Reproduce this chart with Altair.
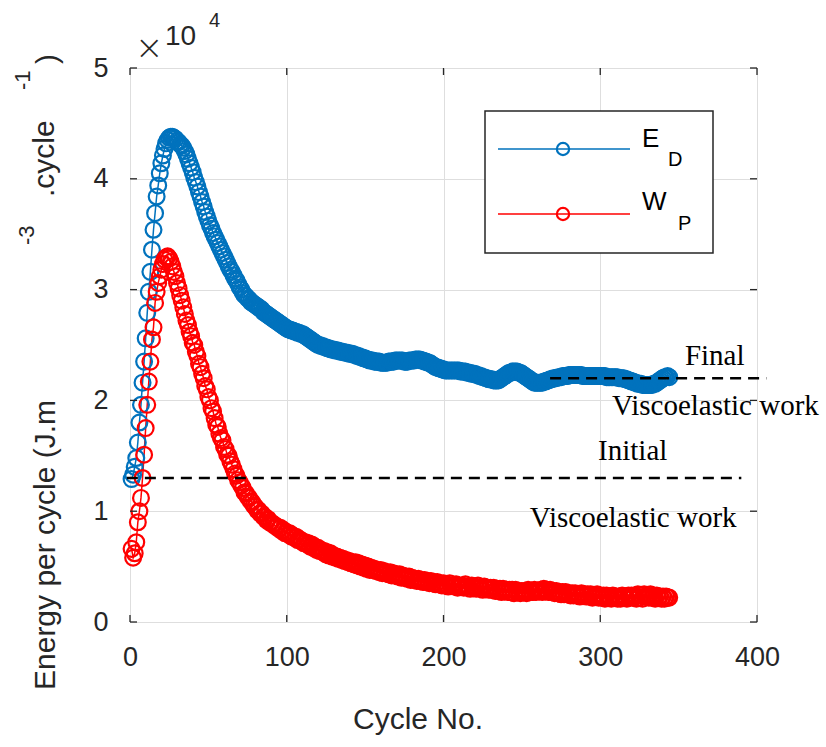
import altair as alt
import pandas as pd

# ---------------- data (values in units of 10^4 J.m^-3.cycle^-1) ----------------
cycles = list(range(1, 345))

energy_dissipated = [  # E_D
    1.29, 1.33, 1.40, 1.48, 1.62, 1.80, 1.96, 2.16, 2.35, 2.56,
    2.79, 2.98, 3.16, 3.36, 3.54, 3.69, 3.84, 3.94, 4.05, 4.14,
    4.21, 4.27, 4.32, 4.35, 4.37, 4.38, 4.38, 4.37, 4.36, 4.34,
    4.33, 4.31, 4.30, 4.28, 4.25, 4.22, 4.18, 4.14, 4.10, 4.06,
    4.01, 3.97, 3.93, 3.88, 3.84, 3.79, 3.75, 3.70, 3.66, 3.62,
    3.58, 3.55, 3.51, 3.48, 3.45, 3.42, 3.39, 3.36, 3.33, 3.30,
    3.27, 3.24, 3.21, 3.18, 3.16, 3.13, 3.10, 3.08, 3.05, 3.02,
    3.00, 2.97, 2.95, 2.94, 2.92, 2.91, 2.89, 2.88, 2.87, 2.86,
    2.85, 2.84, 2.83, 2.82, 2.80, 2.79, 2.78, 2.77, 2.76, 2.75,
    2.74, 2.73, 2.72, 2.71, 2.70, 2.69, 2.68, 2.67, 2.66, 2.65,
    2.64, 2.64, 2.63, 2.63, 2.62, 2.62, 2.61, 2.61, 2.60, 2.60,
    2.59, 2.58, 2.57, 2.56, 2.55, 2.54, 2.53, 2.52, 2.51, 2.50,
    2.50, 2.49, 2.49, 2.48, 2.48, 2.47, 2.47, 2.46, 2.46, 2.46,
    2.45, 2.45, 2.45, 2.44, 2.44, 2.44, 2.43, 2.43, 2.43, 2.42,
    2.42, 2.42, 2.41, 2.41, 2.40, 2.40, 2.39, 2.39, 2.38, 2.38,
    2.37, 2.37, 2.36, 2.36, 2.36, 2.35, 2.35, 2.35, 2.35, 2.34,
    2.34, 2.34, 2.34, 2.34, 2.35, 2.35, 2.35, 2.35, 2.36, 2.36,
    2.36, 2.36, 2.36, 2.36, 2.35, 2.35, 2.35, 2.36, 2.36, 2.36,
    2.36, 2.37, 2.37, 2.37, 2.37, 2.36, 2.36, 2.35, 2.35, 2.34,
    2.34, 2.33, 2.32, 2.31, 2.30, 2.30, 2.29, 2.29, 2.28, 2.28,
    2.27, 2.27, 2.27, 2.27, 2.27, 2.27, 2.27, 2.27, 2.27, 2.27,
    2.26, 2.26, 2.26, 2.26, 2.25, 2.25, 2.25, 2.24, 2.24, 2.24,
    2.23, 2.23, 2.22, 2.22, 2.21, 2.21, 2.20, 2.20, 2.19, 2.19,
    2.19, 2.18, 2.18, 2.18, 2.18, 2.19, 2.20, 2.21, 2.22, 2.23,
    2.24, 2.25, 2.25, 2.26, 2.26, 2.26, 2.26, 2.25, 2.25, 2.24,
    2.23, 2.22, 2.21, 2.20, 2.19, 2.18, 2.17, 2.16, 2.16, 2.16,
    2.16, 2.16, 2.16, 2.17, 2.17, 2.18, 2.18, 2.19, 2.19, 2.20,
    2.20, 2.20, 2.21, 2.21, 2.21, 2.22, 2.22, 2.22, 2.22, 2.23,
    2.23, 2.23, 2.23, 2.23, 2.23, 2.23, 2.23, 2.23, 2.22, 2.22,
    2.22, 2.22, 2.22, 2.22, 2.22, 2.22, 2.22, 2.22, 2.22, 2.22,
    2.22, 2.22, 2.22, 2.21, 2.21, 2.21, 2.21, 2.21, 2.21, 2.21,
    2.21, 2.20, 2.20, 2.20, 2.20, 2.19, 2.19, 2.18, 2.18, 2.17,
    2.17, 2.16, 2.16, 2.15, 2.15, 2.15, 2.14, 2.14, 2.14, 2.14,
    2.14, 2.14, 2.14, 2.15, 2.15, 2.16, 2.17, 2.18, 2.19, 2.20,
    2.21, 2.21, 2.22, 2.21,
]

plastic_work = [  # W_P
    0.66, 0.58, 0.62, 0.72, 0.90, 1.00, 1.12, 1.30, 1.51, 1.75,
    1.96, 2.17, 2.35, 2.55, 2.66, 2.88, 2.98, 3.06, 3.12, 3.18,
    3.23, 3.27, 3.29, 3.30, 3.28, 3.25, 3.21, 3.16, 3.12, 3.06,
    3.01, 2.95, 2.90, 2.84, 2.78, 2.72, 2.68, 2.62, 2.58, 2.52,
    2.50, 2.44, 2.40, 2.33, 2.30, 2.24, 2.20, 2.13, 2.10, 2.03,
    2.00, 1.93, 1.90, 1.84, 1.78, 1.76, 1.70, 1.66, 1.64, 1.58,
    1.56, 1.51, 1.50, 1.45, 1.42, 1.38, 1.34, 1.32, 1.28, 1.26,
    1.23, 1.21, 1.17, 1.16, 1.13, 1.12, 1.09, 1.08, 1.05, 1.04,
    1.01, 1.01, 0.98, 0.98, 0.95, 0.95, 0.92, 0.93, 0.90, 0.90,
    0.88, 0.88, 0.86, 0.86, 0.84, 0.85, 0.82, 0.83, 0.80, 0.81,
    0.79, 0.80, 0.77, 0.78, 0.76, 0.77, 0.74, 0.75, 0.73, 0.73,
    0.71, 0.72, 0.70, 0.71, 0.68, 0.70, 0.67, 0.68, 0.65, 0.67,
    0.64, 0.65, 0.63, 0.64, 0.61, 0.63, 0.60, 0.62, 0.59, 0.60,
    0.58, 0.59, 0.57, 0.58, 0.56, 0.57, 0.55, 0.56, 0.54, 0.55,
    0.53, 0.54, 0.52, 0.54, 0.51, 0.53, 0.50, 0.52, 0.49, 0.51,
    0.48, 0.50, 0.47, 0.49, 0.47, 0.48, 0.46, 0.47, 0.45, 0.47,
    0.44, 0.46, 0.44, 0.45, 0.43, 0.45, 0.42, 0.44, 0.42, 0.43,
    0.41, 0.43, 0.40, 0.42, 0.40, 0.41, 0.39, 0.41, 0.38, 0.40,
    0.38, 0.39, 0.37, 0.39, 0.37, 0.38, 0.36, 0.38, 0.36, 0.37,
    0.35, 0.37, 0.35, 0.36, 0.34, 0.36, 0.34, 0.35, 0.33, 0.35,
    0.33, 0.34, 0.32, 0.35, 0.33, 0.33, 0.32, 0.34, 0.31, 0.33,
    0.32, 0.33, 0.31, 0.34, 0.32, 0.32, 0.30, 0.33, 0.31, 0.32,
    0.30, 0.33, 0.31, 0.31, 0.29, 0.32, 0.30, 0.31, 0.29, 0.31,
    0.29, 0.31, 0.28, 0.30, 0.28, 0.30, 0.27, 0.30, 0.28, 0.29,
    0.27, 0.29, 0.27, 0.29, 0.26, 0.29, 0.27, 0.28, 0.26, 0.28,
    0.27, 0.28, 0.26, 0.29, 0.27, 0.28, 0.27, 0.29, 0.27, 0.28,
    0.28, 0.29, 0.27, 0.30, 0.28, 0.29, 0.27, 0.29, 0.27, 0.28,
    0.26, 0.28, 0.26, 0.27, 0.25, 0.27, 0.25, 0.27, 0.25, 0.26,
    0.24, 0.26, 0.24, 0.26, 0.24, 0.25, 0.23, 0.26, 0.24, 0.25,
    0.23, 0.25, 0.23, 0.25, 0.22, 0.24, 0.23, 0.25, 0.22, 0.24,
    0.22, 0.24, 0.21, 0.24, 0.22, 0.23, 0.21, 0.24, 0.22, 0.23,
    0.21, 0.23, 0.21, 0.24, 0.22, 0.23, 0.21, 0.24, 0.22, 0.24,
    0.22, 0.24, 0.21, 0.25, 0.22, 0.24, 0.21, 0.25, 0.23, 0.24,
    0.22, 0.25, 0.22, 0.24, 0.21, 0.24, 0.22, 0.23, 0.21, 0.23,
    0.21, 0.23, 0.22, 0.22,
]

series_names = ["E_D", "W_P"]
series_colors = ["#0072BD", "#FF0000"]

# reference (dashed) levels: initial and final viscoelastic work
ref_level = [1.3, 2.2]
ref_x_start = [-2, 268]
ref_x_end = [390, 406]

annot_text = ["Final", "Viscoelastic work", "Initial", "Viscoelastic work"]
annot_x = [354, 307.5, 298.6, 255]
annot_y = [2.32, 1.87, 1.46, 0.86]

x_ticks = [0, 100, 200, 300, 400]
y_ticks = [0, 1, 2, 3, 4, 5]

# ---------------- layout ----------------
W, H = 627, 554
INK = "#262626"
SANS = "Liberation Sans"
SERIF = "Liberation Serif"

df = pd.DataFrame({
    "cycle": cycles * 2,
    "value": energy_dissipated + plastic_work,
    "series": ["E_D"] * len(cycles) + ["W_P"] * len(cycles),
})

xs = alt.Scale(domain=[0, 400], nice=False, zero=False)
ys = alt.Scale(domain=[0, 5], nice=False, zero=False)
cs = alt.Scale(domain=series_names, range=series_colors)

axis_common = dict(title=None, grid=True, gridColor="#dedede", gridWidth=1,
                   ticks=False, domain=False, labelFont=SANS, labelFontSize=27,
                   labelColor=INK, labelPadding=22, labelFlush=False, format="d")
x_axis = alt.Axis(values=x_ticks, **axis_common)
y_axis = alt.Axis(values=y_ticks, **axis_common)

base = alt.Chart(df)

lines = base.mark_line(strokeWidth=1.5).encode(
    x=alt.X("cycle:Q", scale=xs, axis=x_axis),
    y=alt.Y("value:Q", scale=ys, axis=y_axis),
    color=alt.Color("series:N", scale=cs, legend=None),
    detail="series:N",
)
points = base.mark_point(shape="circle", filled=False, size=250, strokeWidth=2.2, opacity=1).encode(
    x=alt.X("cycle:Q", scale=xs),
    y=alt.Y("value:Q", scale=ys),
    color=alt.Color("series:N", scale=cs, legend=None),
    order=alt.Order("series:N"),
)

ref_df = pd.DataFrame({"level": ref_level, "x0": ref_x_start, "x1": ref_x_end})
refs = alt.Chart(ref_df).mark_rule(color="black", strokeWidth=2.5, strokeDash=[11, 7]).encode(
    x=alt.X("x0:Q", scale=xs), x2="x1:Q", y=alt.Y("level:Q", scale=ys)
)

ann_df = pd.DataFrame({"t": annot_text, "x": annot_x, "y": annot_y})
ann = alt.Chart(ann_df).mark_text(font=SERIF, fontSize=29, align="left", baseline="alphabetic",
                                  color="black").encode(
    x=alt.X("x:Q", scale=xs), y=alt.Y("y:Q", scale=ys), text="t:N"
)

# inward ticks on all four sides
xt = pd.DataFrame({"v": x_ticks})
yt = pd.DataFrame({"v": y_ticks})
tick_style = dict(color=INK, strokeWidth=1.3)
xtb = alt.Chart(xt).mark_rule(**tick_style).encode(x=alt.X("v:Q", scale=xs), y=alt.value(H), y2=alt.value(H - 7))
xtt = alt.Chart(xt).mark_rule(**tick_style).encode(x=alt.X("v:Q", scale=xs), y=alt.value(0), y2=alt.value(7))
ytl = alt.Chart(yt).mark_rule(**tick_style).encode(y=alt.Y("v:Q", scale=ys), x=alt.value(0), x2=alt.value(7))
ytr = alt.Chart(yt).mark_rule(**tick_style).encode(y=alt.Y("v:Q", scale=ys), x=alt.value(W), x2=alt.value(W - 7))


def label(text, x, y, size, font=SANS, angle=0, align="left", color=INK, weight="normal"):
    return alt.Chart(pd.DataFrame({"t": [text]})).mark_text(
        font=font, fontSize=size, angle=angle, align=align, baseline="alphabetic", color=color,
        fontWeight=weight
    ).encode(x=alt.value(x), y=alt.value(y), text="t:N")


one = pd.DataFrame({"k": [0]})
# legend
leg_box = alt.Chart(one).mark_rect(fill="white", stroke=INK, strokeWidth=1.5).encode(
    x=alt.value(355), x2=alt.value(583), y=alt.value(43), y2=alt.value(185))
leg_parts = []
for ly, col in [(81, series_colors[0]), (146, series_colors[1])]:
    leg_parts.append(alt.Chart(one).mark_rule(color=col, strokeWidth=1.5).encode(
        x=alt.value(368), x2=alt.value(500), y=alt.value(ly)))
    leg_parts.append(alt.Chart(one).mark_point(shape="circle", filled=False, size=150, strokeWidth=2.2,
                                               color=col, opacity=1).encode(
        x=alt.value(433), y=alt.value(ly)))
leg_parts += [
    label("E", 512, 79, 26, color="black"),
    label("D", 538, 98, 20, color="black"),
    label("W", 512, 142, 26, color="black"),
    label("P", 548, 162, 20, color="black"),
]

# axis titles and exponent
titles = [
    label("Cycle No.", 288, 661, 30, align="center"),
    label("Energy per cycle (J.m", -75, 622, 30, angle=270),
    label("-3", -96, 177, 22, angle=270),
    label(".cycle", -76, 129, 30, angle=270),
    label("-1", -100, 22, 22, angle=270),
    label(")", -73, -4, 30, angle=270),
    label("\u00d7", 5, -9, 34, font="DejaVu Sans", weight="lighter"),
    label("10", 35, -23, 28),
    label("4", 79, -41, 20),
]

chart = alt.layer(
    lines, points, refs, ann, xtb, xtt, ytl, ytr, leg_box, *leg_parts, *titles
).properties(
    width=W, height=H,
    padding={"left": 130, "top": 68, "right": 69, "bottom": 125},
    autosize=alt.AutoSizeParams(type="none"),
).configure_view(stroke=INK, strokeWidth=1.5).configure(background="white")

chart.save("out.html", embed_options={"renderer": "svg", "actions": False})
